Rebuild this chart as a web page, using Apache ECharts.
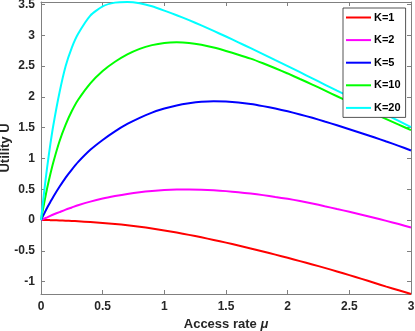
<!DOCTYPE html>
<html>
<head>
<meta charset="utf-8">
<script src="https://cdn.jsdelivr.net/npm/echarts@6/dist/echarts.min.js"></script>
<style>
html, body { margin: 0; padding: 0; background: #fff; }
#chart { width: 415px; height: 331px; }
</style>
</head>
<body>
<div id="chart"></div>
<script>
// access rate samples (x)
const mu = [0, 0.025, 0.05, 0.075, 0.1, 0.15, 0.2, 0.25, 0.3, 0.4, 0.5, 0.6, 0.7, 0.8, 0.9, 1.0,
    1.1, 1.2, 1.3, 1.4, 1.5, 1.6, 1.7, 1.8, 1.9, 2.0, 2.1, 2.2, 2.3, 2.4, 2.5, 2.6, 2.7, 2.8, 2.9, 3.0]

// utility, one array per K
const uK1 = [0, 0, 0, -0.001, -0.002, -0.005, -0.009, -0.014, -0.02, -0.032, -0.046, -0.063, -0.084, -0.108, -0.136, -0.168,
    -0.203, -0.24, -0.28, -0.322, -0.366, -0.412, -0.46, -0.51, -0.561, -0.613, -0.666, -0.72, -0.776, -0.834, -0.893, -0.954, -1.017, -1.08, -1.14, -1.2]
const uK2 = [0, 0.023, 0.045, 0.068, 0.09, 0.13, 0.17, 0.205, 0.24, 0.30, 0.35, 0.39, 0.425, 0.453, 0.473, 0.487,
    0.495, 0.497, 0.493, 0.484, 0.47, 0.452, 0.43, 0.405, 0.375, 0.345, 0.31, 0.27, 0.225, 0.18, 0.135, 0.087, 0.038, -0.013, -0.065, -0.12]
const uK5 = [0, 0.1, 0.2, 0.29, 0.38, 0.54, 0.69, 0.82, 0.94, 1.14, 1.30, 1.44, 1.56, 1.66, 1.745, 1.81,
    1.86, 1.895, 1.92, 1.93, 1.925, 1.91, 1.885, 1.85, 1.81, 1.765, 1.715, 1.66, 1.6, 1.54, 1.475, 1.41, 1.345, 1.275, 1.205, 1.13]
const uK10 = [0, 0.27, 0.52, 0.74, 0.94, 1.28, 1.55, 1.77, 1.95, 2.22, 2.42, 2.57, 2.69, 2.78, 2.84, 2.875,
    2.885, 2.875, 2.845, 2.80, 2.745, 2.685, 2.62, 2.545, 2.465, 2.38, 2.29, 2.2, 2.105, 2.01, 1.915, 1.82, 1.73, 1.64, 1.55, 1.46]
const uK20 = [0, 0.45, 0.86, 1.22, 1.54, 2.07, 2.5, 2.8, 3.02, 3.32, 3.47, 3.53, 3.54, 3.52, 3.47, 3.40,
    3.325, 3.245, 3.16, 3.07, 2.98, 2.885, 2.79, 2.695, 2.595, 2.5, 2.4, 2.3, 2.2, 2.1, 2.005, 1.91, 1.81, 1.71, 1.61, 1.51]

const names = ['K=1', 'K=2', 'K=5', 'K=10', 'K=20']
const colors = ['#ff0000', '#ff00ff', '#0000ff', '#00ff00', '#00ffff']
const yTicks = [-1, -0.5, 0, 0.5, 1, 1.5, 2, 2.5, 3, 3.5]

const font = 'Liberation Sans, Arial, sans-serif'
const axisCol = '#808080'
const textCol = '#262626'

function pairs (ys) {
    return mu.map((x, i) => [x, ys[i]])
}

const ec = echarts.init(document.getElementById('chart'))

const boxAxis = {
    axisLine: { show: true, onZero: false, lineStyle: { color: axisCol, width: 1 } },
    splitLine: { show: false }
}

ec.setOption({
    animation: false,
    backgroundColor: '#fff',
    textStyle: { fontFamily: font },
    grid: { left: 41, right: 4, top: 2, bottom: 37, containLabel: false, outerBoundsMode: 'none' },
    legend: {
        orient: 'vertical',
        left: 343,
        top: 8,
        padding: [4, 5, 4, 3],
        icon: 'rect',
        itemWidth: 25,
        itemHeight: 2,
        itemGap: 11.6,
        backgroundColor: '#fff',
        borderColor: '#2a2a2a',
        borderWidth: 0.8,
        borderRadius: 0,
        textStyle: { fontSize: 11, fontWeight: 'bold', color: '#000', padding: [0, 0, 0, -2] },
        data: names
    },
    xAxis: [
        Object.assign({}, boxAxis, {
            type: 'value', min: 0, max: 3, interval: 0.5, position: 'bottom',
            axisTick: { show: true, inside: true, length: 4, lineStyle: { color: axisCol } },
            axisLabel: { color: textCol, fontSize: 12, fontWeight: 'bold', margin: 7 },
            name: 'Access rate {i|μ}',
            nameLocation: 'middle',
            nameGap: 24,
            nameMoveOverlap: false,
            nameTextStyle: {
                color: textCol, fontSize: 13, fontWeight: 'bold',
                rich: { i: { fontStyle: 'italic', fontWeight: 'bold', fontSize: 13, color: textCol } }
            }
        }),
        Object.assign({}, boxAxis, {
            type: 'value', min: 0, max: 3, interval: 0.5, position: 'top',
            axisTick: { show: true, inside: true, length: 4, lineStyle: { color: axisCol } },
            axisLabel: { show: false }
        })
    ],
    yAxis: [
        Object.assign({}, boxAxis, {
            type: 'value', min: -1.2, max: 3.54, position: 'left',
            axisTick: { show: true, inside: true, length: 4, customValues: yTicks, lineStyle: { color: axisCol } },
            axisLabel: { color: textCol, fontSize: 12, fontWeight: 'bold', margin: 6, customValues: yTicks },
            name: 'Utility U',
            nameLocation: 'middle',
            nameGap: 29,
            nameMoveOverlap: false,
            nameTextStyle: { color: textCol, fontSize: 13, fontWeight: 'bold' }
        }),
        Object.assign({}, boxAxis, {
            type: 'value', min: -1.2, max: 3.54, position: 'right',
            axisTick: { show: true, inside: true, length: 4, customValues: yTicks, lineStyle: { color: axisCol } },
            axisLabel: { show: false }
        })
    ],
    series: [uK1, uK2, uK5, uK10, uK20].map((ys, i) => ({
        name: names[i],
        type: 'line',
        data: pairs(ys),
        symbol: 'none',
        smooth: 0.2,
        color: colors[i],
        lineStyle: { color: colors[i], width: 2 },
        clip: true
    }))
})
</script>
</body>
</html>
